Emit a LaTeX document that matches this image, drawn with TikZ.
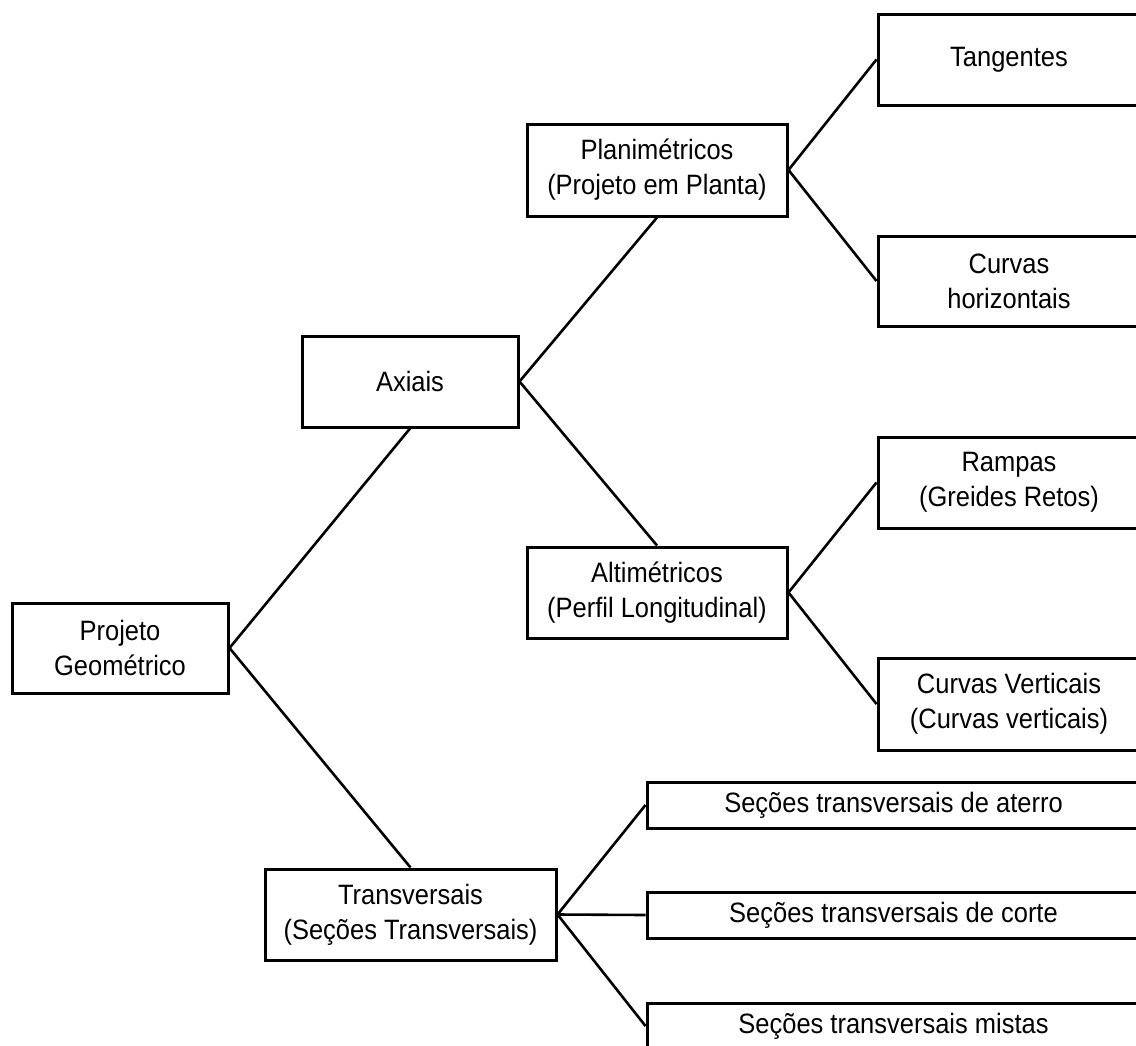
\documentclass[tikz,border=0pt]{standalone}
\usepackage{fontspec}
\setmainfont[FakeStretch=0.91]{Liberation Sans}
\begin{document}
\begin{tikzpicture}[x=1pt,y=-1pt,
  box/.style={draw=black, line width=3pt, rectangle, inner sep=0pt, align=center,
    font=\fontsize{28}{35}\selectfont},
  link/.style={draw=black, line width=2.6pt}]
\useasboundingbox (0,0) rectangle (1136,1045);
\clip (0,0) rectangle (1136,1045);
\fill[white] (0,0) rectangle (1136,1045);
\node[box, minimum width=216pt, minimum height=90pt] (proj) at (120,648) {Projeto\\Geométrico};
\node[box, minimum width=216pt, minimum height=91pt] (axi) at (410,381.5) {Axiais};
\node[box, minimum width=260pt, minimum height=92pt] (plan) at (657,170) {Planimétricos\\(Projeto em Planta)};
\node[box, minimum width=260pt, minimum height=91pt] (alt) at (657,592.5) {Altimétricos\\(Perfil Longitudinal)};
\node[box, minimum width=262pt, minimum height=91pt] (tan) at (1009,59.5) {Tangentes};
\node[box, minimum width=262pt, minimum height=90pt] (curh) at (1009,281) {Curvas\\horizontais};
\node[box, minimum width=262pt, minimum height=91pt] (ramp) at (1009,482.5) {Rampas\\(Greides Retos)};
\node[box, minimum width=262pt, minimum height=92pt] (curv) at (1009,704) {Curvas Verticais\\(Curvas verticais)};
\node[box, minimum width=291pt, minimum height=91pt] (trans) at (410.5,914.5) {Transversais\\(Seções Transversais)};
\node[box, minimum width=493pt, minimum height=46pt] (ater) at (893.5,805) {Seções transversais de aterro};
\node[box, minimum width=493pt, minimum height=46pt] (corte) at (893.5,915) {Seções transversais de corte};
\node[box, minimum width=493pt, minimum height=46pt] (mist) at (893.5,1026) {Seções transversais mistas};
\draw[link] (proj.east) -- (axi.south);
\draw[link] (proj.east) -- (trans.north);
\draw[link] (axi.east) -- (plan.south);
\draw[link] (axi.east) -- (alt.north);
\draw[link] (plan.east) -- (tan.west);
\draw[link] (plan.east) -- (curh.west);
\draw[link] (alt.east) -- (ramp.west);
\draw[link] (alt.east) -- (curv.west);
\draw[link] (trans.east) -- (ater.west);
\draw[link] (trans.east) -- (corte.west);
\draw[link] (trans.east) -- (mist.west);
\end{tikzpicture}
\end{document}
